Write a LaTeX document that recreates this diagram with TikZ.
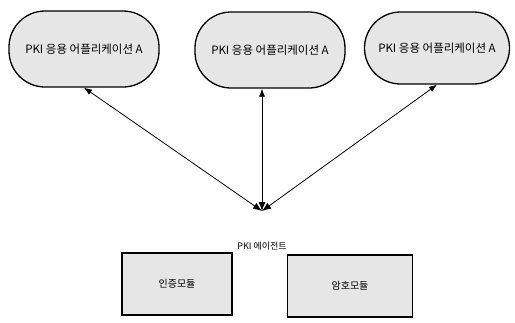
\documentclass[tikz,border=0pt]{standalone}
\usepackage{fontspec}
\newfontfamily\kr{Noto Sans CJK KR}
\usepackage{tikz}
\usetikzlibrary{arrows.meta,positioning}
\definecolor{dot}{HTML}{E6E6E6}

\begin{document}
\begin{tikzpicture}[x=1pt,y=-1pt,
  app/.style={rectangle,rounded corners=36pt,draw=black,line width=1.3pt,fill=dot,minimum width=150pt,minimum height=76pt,font=\kr\fontsize{11.5}{13}\selectfont},
  module/.style={rectangle,draw=black,line width=1.3pt,fill=dot,minimum height=62pt,font=\kr\fontsize{10}{12}\selectfont},
  arr/.style={{Latex[length=9pt,width=7pt]}-{Latex[length=8pt,width=6pt]},line width=0.8pt}]
\useasboundingbox (0,0) rectangle (515,322);
\node[app] (a1) at (84,49) {PKI 응용 어플리케이션 A};
\node[app] (a2) at (270,50) {PKI 응용 어플리케이션 A};
\node[app,minimum width=145pt,minimum height=72pt] (a3) at (437,48) {PKI 응용 어플리케이션 A};
\coordinate (hub) at (262,211);
\draw[arr] (hub)--(a1.south);
\draw[arr] (hub)--(hub |- a2.south);
\draw[arr] (hub)--(a3.south);
\node[font=\kr\fontsize{9}{11}\selectfont] (agent) at (262,246) {PKI 에이전트};
\node[module,minimum width=110pt] (m1) at (177,284) {인증모듈};
\node[module,minimum width=125pt] (m2) at (350,286) {암호모듈};
\end{tikzpicture}
\end{document}
